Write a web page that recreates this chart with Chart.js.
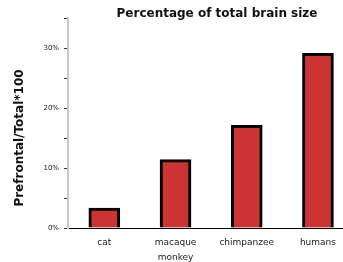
<!DOCTYPE html>
<html>
<head>
<meta charset="utf-8">
<script src="https://cdn.jsdelivr.net/npm/chart.js@4/dist/chart.umd.min.js"></script>
<style>
  html, body { margin: 0; padding: 0; background: #fff; }
  #wrap { width: 343px; height: 262px; }
</style>
</head>
<body>
<div id="wrap"><canvas id="chart"></canvas></div>
<script>
// categories and values
const categories = ['cat', ['macaque', 'monkey'], 'chimpanzee', 'humans'];
const percentages = [3.3, 11.4, 17.1, 29.1];
const yTickLabels = ['0%', '10%', '20%', '30%'];

const chartTitle = 'Percentage of total brain size';
const yTitle = 'Prefrontal/Total*100';

const FONT = "'DejaVu Sans', sans-serif";

// titles drawn by hand so they can sit where the original has them
const titlesPlugin = {
    id: 'titles',
    afterDraw(chart) {
        const ctx = chart.ctx;
        ctx.save();
        ctx.fillStyle = '#111';
        ctx.textAlign = 'center';
        ctx.textBaseline = 'middle';
        ctx.font = "bold 12px " + FONT;
        ctx.fillText(chartTitle, 217, 14);
        ctx.font = "bold 12px " + FONT;
        ctx.translate(20, 138);
        ctx.rotate(-Math.PI / 2);
        ctx.fillText(yTitle, 0, 0);
        ctx.restore();
    }
};

new Chart(document.getElementById('chart'), {
    type: 'bar',
    data: {
        datasets: [{
            data: percentages.map((v, i) => ({ x: i, y: v })),
            backgroundColor: '#cc3333',
            borderColor: '#000',
            borderWidth: 3,
            borderSkipped: 'bottom',
            barThickness: 31
        }]
    },
    options: {
        responsive: true,
        maintainAspectRatio: false,
        animation: false,
        layout: { padding: { left: 0, right: 0, top: 18, bottom: 0 } },
        plugins: { legend: { display: false }, tooltip: { enabled: false } },
        scales: {
            x: {
                type: 'linear',
                offset: false,
                min: -0.51,
                max: 3.34,
                afterFit: s => { s.height = 34; },
                grid: { display: false, drawTicks: false, tickLength: 0 },
                border: { color: '#000', width: 1 },
                ticks: {
                    stepSize: 1,
                    includeBounds: false,
                    autoSkip: false,
                    maxRotation: 0,
                    padding: 7,
                    color: '#222',
                    font: { family: FONT, size: 9, lineHeight: 1.7 },
                    callback: v => Number.isInteger(v) ? categories[v] : ''
                }
            },
            y: {
                min: 0,
                max: 35,
                afterFit: s => { s.width = 68; },
                grid: { drawOnChartArea: false, tickLength: 4, color: '#333', lineWidth: 1 },
                border: { color: '#c8c8c8', width: 2 },
                ticks: {
                    stepSize: 5,
                    padding: 5,
                    color: '#222',
                    font: { family: FONT, size: 7 },
                    callback: v => v % 10 === 0 ? yTickLabels[v / 10] : ''
                }
            }
        }
    },
    plugins: [titlesPlugin]
});
</script>
</body>
</html>
